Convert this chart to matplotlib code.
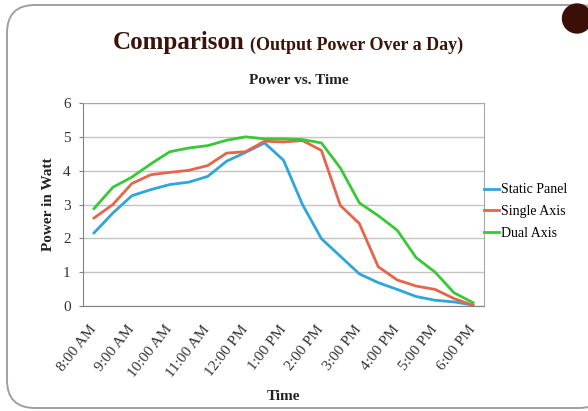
import matplotlib
matplotlib.use('Agg')
import matplotlib.pyplot as plt
import matplotlib.transforms as mtransforms
from matplotlib.patches import FancyBboxPatch, Circle

# --------------------------------------------------------------------------------------
# Data (half-hour readings, 8:00 AM to 6:00 PM)

hour_labels = ['8:00 AM', '9:00 AM', '10:00 AM', '11:00 AM', '12:00 PM', '1:00 PM',
               '2:00 PM', '3:00 PM', '4:00 PM', '5:00 PM', '6:00 PM']

static_panel = [2.16, 2.75, 3.26, 3.44, 3.59, 3.66, 3.83, 4.28, 4.54, 4.82, 4.31,
                3.00, 1.99, 1.47, 0.95, 0.69, 0.49, 0.28, 0.17, 0.12, 0.03]
single_axis  = [2.60, 3.00, 3.62, 3.88, 3.95, 4.01, 4.15, 4.52, 4.56, 4.87, 4.85,
                4.89, 4.60, 2.97, 2.44, 1.16, 0.77, 0.59, 0.49, 0.22, 0.02]
dual_axis    = [2.88, 3.51, 3.81, 4.20, 4.56, 4.67, 4.74, 4.90, 5.00, 4.94, 4.94,
                4.92, 4.82, 4.08, 3.05, 2.67, 2.24, 1.43, 1.00, 0.39, 0.10]

series_names = ['Static Panel', 'Single Axis', 'Dual Axis']
colors       = ['#2ea6dc', '#e6654a', '#38c838']

# --------------------------------------------------------------------------------------
# Figure

plt.rcParams['font.family'] = ['Liberation Serif', 'DejaVu Serif']

fig = plt.figure(figsize=(5.88, 4.11), dpi=100)
fig.patch.set_facecolor('white')

# slide background (pixel coords)
bg = fig.add_axes([0, 0, 1, 1], zorder=0)
bg.set_xlim(0, 588)
bg.set_ylim(411, 0)
bg.axis('off')
frame = FancyBboxPatch((7, 5), 600, 403, boxstyle='round,pad=0,rounding_size=28',
                       facecolor='white', edgecolor='#a0a0a0', linewidth=1.4)
bg.add_patch(frame)
bg.add_patch(Circle((577, 18.5), 14.5, color='#3a0f06'))

bg.text(113, 43, 'Comparison', fontsize=18, fontweight='bold', color='#3a1408',
        va='center', ha='left')
bg.text(250, 45, '(Output Power Over a Day)', fontsize=13, fontweight='bold',
        color='#3a1408', va='center', ha='left')
bg.text(299, 80, 'Power vs. Time', fontsize=11, fontweight='bold', color='#222222',
        va='center', ha='center')

# main chart
ax = fig.add_axes([83/588, 1 - 306/411, 401/588, 203/411], zorder=1)
ax.patch.set_alpha(0)

x = list(range(len(static_panel)))
for y, name, c in zip([static_panel, single_axis, dual_axis], series_names, colors):
    ax.plot(x, y, color=c, linewidth=2, label=name)

ax.set_xlim(-0.58, 20.58)
ax.set_ylim(0, 6)
ax.set_yticks(range(0, 7))
ax.set_xticks(range(0, 21, 2))
ax.set_xticklabels(hour_labels, rotation=52, ha='right', va='center',
                   rotation_mode='anchor')
shift = mtransforms.ScaledTranslation(6/100, 0, fig.dpi_scale_trans)
for lbl in ax.get_xticklabels():
    lbl.set_transform(lbl.get_transform() + shift)

ax.grid(True, axis='y', color='#c4c4c4', linewidth=1)
ax.set_axisbelow(True)
for s in ax.spines.values():
    s.set_color('#a8a8a8')
ax.spines['left'].set_color('#808080')
ax.spines['bottom'].set_color('#808080')

ax.tick_params(axis='y', length=3, color='#808080', labelsize=11, labelcolor='#333333', pad=6)
ax.tick_params(axis='x', length=0, labelsize=11, labelcolor='#333333', pad=15)

ax.set_ylabel('Power in Watt', fontsize=11, fontweight='bold', color='#222222', labelpad=6)
ax.set_xlabel('Time', fontsize=11, fontweight='bold', color='#222222', labelpad=7)

ax.legend(loc='center left', bbox_to_anchor=(1.0, 0.465), frameon=False, fontsize=10,
          handlelength=1.1, handletextpad=0.15, borderaxespad=0, borderpad=0,
          labelspacing=0.62)

fig.savefig('out.png', dpi=100)
